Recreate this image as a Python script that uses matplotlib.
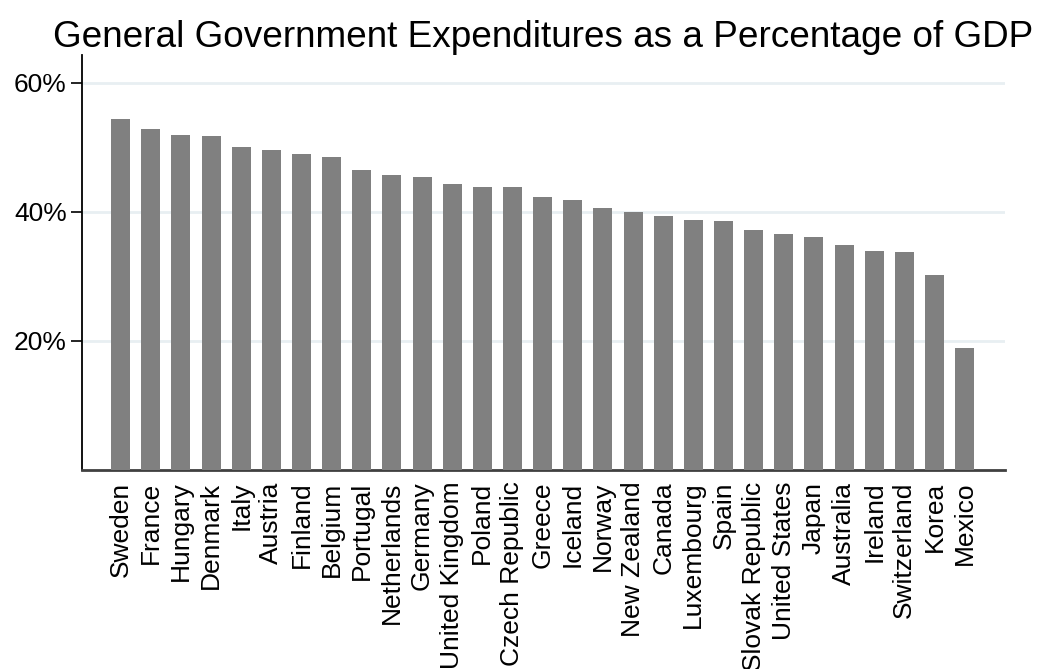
import matplotlib
matplotlib.use('Agg')
import matplotlib.pyplot as plt
import numpy as np

countries = ['Sweden', 'France', 'Hungary', 'Denmark', 'Italy', 'Austria', 'Finland',
             'Belgium', 'Portugal', 'Netherlands', 'Germany', 'United Kingdom', 'Poland',
             'Czech Republic', 'Greece', 'Iceland', 'Norway', 'New Zealand', 'Canada',
             'Luxembourg', 'Spain', 'Slovak Republic', 'United States', 'Japan',
             'Australia', 'Ireland', 'Switzerland', 'Korea', 'Mexico']
spending = [54.4, 52.8, 51.9, 51.7, 50.0, 49.5, 48.9, 48.5, 46.4, 45.7, 45.4, 44.3,
            43.8, 43.8, 42.3, 41.8, 40.6, 40.0, 39.3, 38.7, 38.6, 37.2, 36.5, 36.1,
            34.9, 33.9, 33.8, 30.2, 18.9]
yticks = [20, 40, 60]
ytick_labels = ['20%', '40%', '60%']

plt.rcParams['font.family'] = ['Liberation Sans', 'DejaVu Sans']

fig = plt.figure(figsize=(10.41, 6.69), dpi=100)
ax = fig.add_axes([0.0788, 0.2979, 0.9654 - 0.0788, 0.9178 - 0.2979])

x = np.arange(len(countries))
ax.bar(x, spending, width=0.63, color='#808080', zorder=3)

ax.set_xlim(-1.28, len(countries) - 1 + 1.34)
ax.set_ylim(0, 64.3)
ax.set_yticks(yticks)
ax.set_yticklabels(ytick_labels, fontsize=19)
ax.set_xticks(x)
ax.set_xticklabels(countries, rotation=90, fontsize=19, va='top', ha='center')
ax.tick_params(axis='x', length=0, pad=8.5)
ax.tick_params(axis='y', length=8, width=1.2, pad=3, color='black')

ax.grid(axis='y', color='#e8eff2', linewidth=2, zorder=0)
ax.spines['top'].set_visible(False)
ax.spines['right'].set_visible(False)
ax.spines['left'].set_linewidth(1.3)
ax.spines['left'].set_color('black')
ax.spines['bottom'].set_linewidth(2)
ax.spines['bottom'].set_color('#404040')

ax.set_title('General Government Expenditures as a Percentage of GDP', fontsize=26.6, pad=6)

plt.savefig('out.png', dpi=100)
plt.close()
